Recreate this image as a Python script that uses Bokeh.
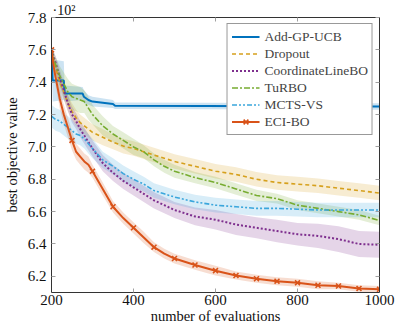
from bokeh.plotting import figure
from bokeh.models import (LinearAxis, FixedTicker, Legend, LegendItem,
                          PrintfTickFormatter)
from bokeh.embed import file_html
from bokeh.resources import INLINE

# ---------------- data ----------------
X = [200, 205, 210, 220, 230, 240, 250, 260, 270, 280, 290, 300, 325, 350, 375,
     400, 425, 450, 475, 500, 550, 600, 650, 700, 750, 800, 850, 900, 950, 1000]

ECI = [7.60, 7.50, 7.43, 7.30, 7.20, 7.12, 7.04, 6.97, 6.94, 6.91, 6.89, 6.85, 6.74, 6.63, 6.56,
       6.50, 6.44, 6.38, 6.34, 6.31, 6.27, 6.235, 6.205, 6.185, 6.17, 6.16, 6.145, 6.14, 6.125, 6.12]
ECI_SD = [0.0, 0.04, 0.05, 0.06, 0.06, 0.06, 0.06, 0.05, 0.05, 0.05, 0.05, 0.04, 0.04, 0.035, 0.035,
          0.035, 0.035, 0.03, 0.03, 0.03, 0.03, 0.03, 0.025, 0.025, 0.025, 0.025, 0.025, 0.02, 0.02, 0.02]

DROP = [7.60, 7.54, 7.49, 7.40, 7.34, 7.27, 7.22, 7.18, 7.15, 7.13, 7.11, 7.09, 7.06, 7.03, 7.005,
        6.99, 6.97, 6.95, 6.93, 6.91, 6.88, 6.85, 6.83, 6.80, 6.78, 6.77, 6.76, 6.745, 6.73, 6.715]
DROP_SD = [0.0, 0.03, 0.04, 0.05, 0.05, 0.05, 0.05, 0.05, 0.05, 0.05, 0.05, 0.05, 0.05, 0.045, 0.045,
           0.045, 0.045, 0.045, 0.045, 0.045, 0.045, 0.045, 0.045, 0.045, 0.045, 0.045, 0.045, 0.045, 0.045, 0.045]

TURBO = [7.60, 7.55, 7.51, 7.44, 7.39, 7.34, 7.31, 7.30, 7.29, 7.28, 7.24, 7.20, 7.13, 7.08, 7.04,
         7.00, 6.97, 6.92, 6.88, 6.85, 6.81, 6.78, 6.74, 6.70, 6.68, 6.64, 6.62, 6.60, 6.58, 6.545]
TURBO_SD = [0.0, 0.04, 0.05, 0.06, 0.07, 0.08, 0.08, 0.08, 0.08, 0.07, 0.07, 0.06, 0.06, 0.05, 0.05,
            0.05, 0.04, 0.04, 0.04, 0.04, 0.035, 0.035, 0.035, 0.035, 0.03, 0.03, 0.03, 0.03, 0.03, 0.03]

CLBO = [7.60, 7.56, 7.52, 7.43, 7.35, 7.27, 7.20, 7.16, 7.11, 7.07, 7.03, 6.99, 6.90, 6.84, 6.79,
        6.75, 6.71, 6.67, 6.64, 6.61, 6.57, 6.55, 6.52, 6.50, 6.48, 6.46, 6.45, 6.43, 6.40, 6.395]
CLBO_SD = [0.0, 0.03, 0.04, 0.05, 0.05, 0.05, 0.05, 0.05, 0.05, 0.05, 0.05, 0.05, 0.05, 0.05, 0.05,
           0.05, 0.05, 0.05, 0.05, 0.05, 0.055, 0.06, 0.065, 0.065, 0.07, 0.07, 0.075, 0.08, 0.08, 0.08]

MCTS = [7.19, 7.18, 7.17, 7.16, 7.14, 7.12, 7.10, 7.08, 7.07, 7.05, 7.02, 6.99, 6.92, 6.88, 6.835,
        6.80, 6.77, 6.73, 6.71, 6.69, 6.66, 6.64, 6.63, 6.62, 6.62, 6.615, 6.61, 6.61, 6.61, 6.61]
MCTS_SD = [0.07, 0.07, 0.07, 0.07, 0.07, 0.07, 0.07, 0.06, 0.06, 0.06, 0.06, 0.06, 0.05, 0.05, 0.05,
           0.05, 0.045, 0.045, 0.045, 0.045, 0.045, 0.045, 0.045, 0.045, 0.045, 0.045, 0.045, 0.045, 0.045, 0.045]

ADD_X = [200, 203, 230, 232, 276, 279, 290, 300, 350, 355, 1000]
ADD = [7.57, 7.41, 7.41, 7.33, 7.33, 7.31, 7.29, 7.28, 7.265, 7.255, 7.25]
ADD_SD = [0.03, 0.13, 0.12, 0.05, 0.04, 0.04, 0.03, 0.03, 0.025, 0.02, 0.02]

X_TICKS = [200, 400, 600, 800, 1000]
Y_TICKS = [6.2, 6.4, 6.6, 6.8, 7.0, 7.2, 7.4, 7.6, 7.8]
MARK_STEP = 50
Y_EXPONENT = "·10²"

SERIES = ["Add-GP-UCB", "Dropout", "CoordinateLineBO", "TuRBO", "MCTS-VS", "ECI-BO"]
COLORS = ["#0072BD", "#D6A01C", "#7E2F8E", "#77AC30", "#3AA6DC", "#D95319"]

FONT = "Liberation Serif"

# ---------------- figure ----------------
p = figure(width=399, height=328, x_range=(200, 1000), y_range=(6.1, 7.8),
           output_backend="svg", toolbar_location=None,
           min_border_left=48, min_border_right=20, min_border_top=17, min_border_bottom=36)
p.xgrid.visible = False
p.ygrid.visible = False
p.outline_line_color = None
p.background_fill_color = "white"

p.title.text = Y_EXPONENT
p.title.align = "left"
p.title.text_font = FONT
p.title.text_font_size = "14px"
p.title.text_font_style = "normal"
p.title.text_color = "#111111"
p.title.standoff = 0
p.title.offset = 1
p.title.text_line_height = 0.9

def lo(v, s):
    return [a - b for a, b in zip(v, s)]

def hi(v, s):
    return [a + b for a, b in zip(v, s)]

data = [
    (ADD_X, ADD, ADD_SD),
    (X, DROP, DROP_SD),
    (X, CLBO, CLBO_SD),
    (X, TURBO, TURBO_SD),
    (X, MCTS, MCTS_SD),
    (X, ECI, ECI_SD),
]

for (xs, ys, sd), c in zip(data, COLORS):
    p.varea(x=xs, y1=lo(ys, sd), y2=hi(ys, sd), fill_color=c, fill_alpha=0.2)

dashes = ["solid", "4 3", "2 2", "6 2 2 2", "5 2 2 2 2 2", "solid"]
widths = [2, 1.6, 2, 1.6, 1.6, 2]
items = []
for i, ((xs, ys, sd), c) in enumerate(zip(data, COLORS)):
    r = p.line(xs, ys, line_color=c, line_width=widths[i], line_dash=dashes[i])
    rends = [r]
    if SERIES[i] == "ECI-BO":
        mx = [x for x in xs if x % MARK_STEP == 0]
        my = [y for x, y in zip(xs, ys) if x % MARK_STEP == 0]
        m = p.scatter(mx, my, marker="x", size=7, line_color=c, line_width=1.6)
        rends.append(m)
    items.append(LegendItem(label=SERIES[i], renderers=rends))

legend = Legend(items=items, location="top_right")
legend.label_text_font = FONT
legend.label_text_font_size = "13.5px"
legend.label_height = 17
legend.glyph_height = 17
legend.glyph_width = 28
legend.spacing = 0
legend.padding = 4
legend.margin = 6
legend.label_standoff = 5
legend.border_line_color = "#333333"
legend.border_line_width = 1
legend.background_fill_alpha = 1
p.add_layout(legend)

def style_axis(ax, show_labels):
    ax.major_tick_in = 4
    ax.major_tick_out = 0
    ax.minor_tick_line_color = None
    ax.major_tick_line_color = "#a0a0a0"
    ax.axis_line_color = "#333333"
    ax.major_label_text_font = FONT
    ax.major_label_text_font_size = "15px" if show_labels else "0px"
    ax.major_label_text_color = "#111111"
    if not show_labels:
        ax.major_label_standoff = 0

p.xaxis.ticker = FixedTicker(ticks=X_TICKS)
p.yaxis.ticker = FixedTicker(ticks=Y_TICKS)
p.yaxis.formatter = PrintfTickFormatter(format="%.1f")
style_axis(p.xaxis[0], True)
style_axis(p.yaxis[0], True)
p.xaxis.major_label_standoff = 2
p.yaxis.major_label_standoff = 5
p.xaxis.axis_label = "number of evaluations"
p.yaxis.axis_label = "best objective value"
for ax in (p.xaxis[0], p.yaxis[0]):
    ax.axis_label_text_font = FONT
    ax.axis_label_text_font_size = "14.5px"
    ax.axis_label_text_font_style = "normal"
    ax.axis_label_text_color = "#111111"
p.xaxis.axis_label_standoff = 0
p.yaxis.axis_label_standoff = 5

top = LinearAxis(ticker=FixedTicker(ticks=X_TICKS))
style_axis(top, False)
p.add_layout(top, "above")
right = LinearAxis(ticker=FixedTicker(ticks=Y_TICKS))
style_axis(right, False)
p.add_layout(right, "right")

open("out.html", "w").write(file_html(p, INLINE))
